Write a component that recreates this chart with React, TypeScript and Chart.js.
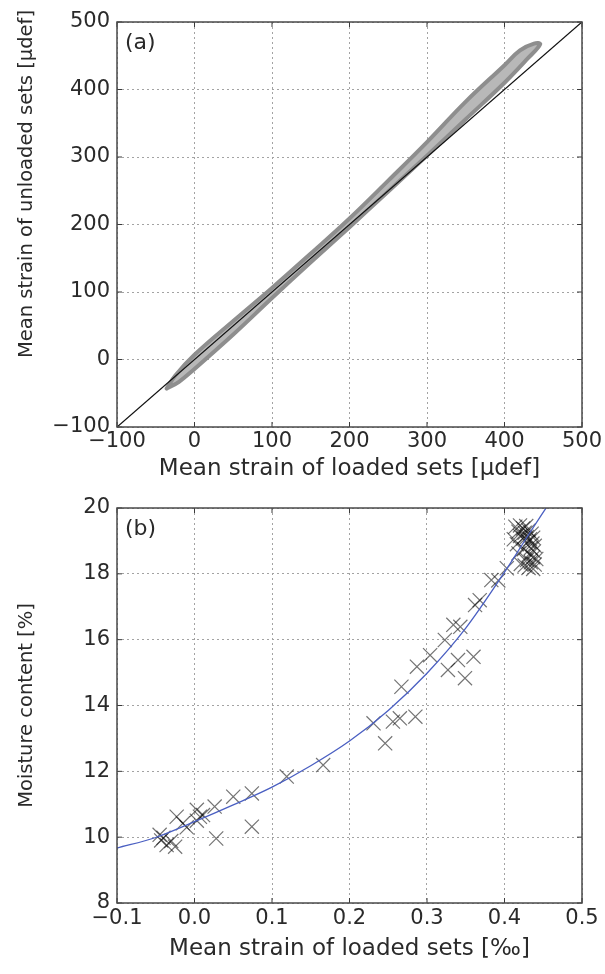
import React, { useEffect, useRef } from 'react';
import { Chart, registerables } from 'chart.js';

Chart.register(...registerables);

// ---------- Panel (a): hysteresis loop ----------
const loopLowerX = [-36, -20, 0, 50, 100, 150, 200, 250, 300, 350, 400, 430, 446];
const loopLowerY = [-43, -33, -14, 37, 91, 144, 196, 249, 302, 356, 410, 446, 467];
const loopUpperX = [446, 438, 420, 400, 350, 300, 250, 200, 150, 100, 50, 0, -25, -36];
const loopUpperY = [467, 468, 458, 436, 382, 322, 265, 209, 157, 106, 57, 7, -24, -43];
const diagX = [-100, 500];
const diagY = [-100, 500];
const aMin = -100;
const aMax = 500;
const aStep = 100;

// ---------- Panel (b): moisture vs strain ----------
const bX = [
  -0.045, -0.040, -0.043, -0.036, -0.025, -0.030, -0.023, -0.015, -0.010, 0.003,
  0.007, 0.003, 0.011, 0.026, 0.028, 0.050, 0.074, 0.074, 0.119, 0.166,
  0.231, 0.246, 0.256, 0.265, 0.285, 0.267, 0.287, 0.304, 0.327, 0.323,
  0.334, 0.343, 0.340, 0.349, 0.360, 0.362, 0.368, 0.383, 0.392, 0.403,
  0.414, 0.420, 0.424, 0.428, 0.418, 0.426, 0.431, 0.435, 0.429, 0.433,
  0.437, 0.431, 0.436, 0.439, 0.424, 0.420, 0.412, 0.434, 0.438, 0.432,
  0.437, 0.429, 0.434, 0.439, 0.426, 0.421, 0.431, 0.437, 0.418, 0.425,
  0.441, 0.416,
];
const bY = [
  10.07, 9.98, 9.90, 9.76, 9.71, 9.88, 10.62, 10.42, 10.30, 10.83,
  10.62, 10.50, 10.67, 10.93, 9.96, 11.23, 11.33, 10.32, 11.84, 12.19,
  13.46, 12.85, 13.51, 13.61, 13.66, 14.57, 15.18, 15.53, 15.08, 15.99,
  16.45, 16.39, 15.38, 14.83, 15.48, 17.05, 17.20, 17.81, 17.80, 18.17,
  19.43, 19.47, 19.38, 19.45, 19.28, 19.25, 19.32, 19.22, 19.12, 19.05,
  19.10, 18.98, 18.92, 18.85, 19.08, 19.15, 19.05, 18.78, 18.68, 18.60,
  18.50, 18.42, 18.35, 18.28, 18.25, 18.30, 18.18, 18.15, 18.62, 18.75,
  18.45, 18.90,
];
const fitX = [-0.1, -0.05, 0, 0.05, 0.1, 0.15, 0.2, 0.25, 0.3, 0.35, 0.4, 0.43, 0.455];
const fitY = [9.67, 9.99, 10.47, 10.98, 11.52, 12.17, 12.92, 13.85, 14.98, 16.35, 18.05, 19.15, 20.05];
const bXMin = -0.1;
const bXMax = 0.5;
const bXStep = 0.1;
const bYMin = 8;
const bYMax = 20;
const bYStep = 2;

const FONT = "'DejaVu Sans', 'Liberation Sans', sans-serif";
const TEXT = '#2a2a2a';
const W = 605;
const H = 487;

const minus = (s: string) => s.replace('-', '\u2212');

const frameTicksPlugin = {
  id: 'frameTicks',
  afterDatasetsDraw(chart: any) {
    const { ctx, chartArea: a, scales } = chart;
    const xs = scales.x;
    const ys = scales.y;
    const L = 5;
    ctx.save();
    ctx.strokeStyle = '#3a3a3a';
    ctx.lineWidth = 1;
    ctx.beginPath();
    xs.ticks.forEach((t: any) => {
      const p = xs.getPixelForValue(t.value);
      ctx.moveTo(p, a.bottom);
      ctx.lineTo(p, a.bottom - L);
      ctx.moveTo(p, a.top);
      ctx.lineTo(p, a.top + L);
    });
    ys.ticks.forEach((t: any) => {
      const p = ys.getPixelForValue(t.value);
      ctx.moveTo(a.left, p);
      ctx.lineTo(a.left + L, p);
      ctx.moveTo(a.right, p);
      ctx.lineTo(a.right - L, p);
    });
    ctx.stroke();
    ctx.strokeStyle = '#4a4a4a';
    ctx.lineWidth = 1.5;
    ctx.strokeRect(a.left, a.top, a.right - a.left, a.bottom - a.top);
    ctx.restore();
  },
  afterDraw(chart: any, _args: any, opts: any) {
    const { ctx, chartArea: a } = chart;
    ctx.save();
    ctx.fillStyle = TEXT;
    if (opts && opts.label) {
      ctx.font = `22px ${FONT}`;
      ctx.textAlign = 'left';
      ctx.textBaseline = 'alphabetic';
      ctx.fillText(opts.label, a.left + 8, a.top + 27);
    }
    if (opts && opts.yTitle) {
      ctx.translate(opts.yTitleX, opts.yTitleY);
      ctx.rotate(-Math.PI / 2);
      ctx.font = `19.5px ${FONT}`;
      ctx.textAlign = 'center';
      ctx.textBaseline = 'middle';
      ctx.fillText(opts.yTitle, 0, 0);
    }
    ctx.restore();
  },
};

const gridOpts = { color: '#a3a3a3', lineWidth: 1, drawTicks: false };
const borderOpts = { display: false, dash: [2, 3] };
const tickFont = { family: FONT, size: 21 };
const titleFont = { family: FONT, size: 23 };

function makeChartA(canvas: HTMLCanvasElement) {
  const loopPts = [
    ...loopLowerX.map((x, i) => ({ x, y: loopLowerY[i] })),
    ...loopUpperX.slice(1).map((x, i) => ({ x, y: loopUpperY[i + 1] })),
  ];
  const diagPts = diagX.map((x, i) => ({ x, y: diagY[i] }));
  return new Chart(canvas, {
    type: 'scatter',
    data: {
      datasets: [
        {
          data: loopPts,
          order: 2,
          showLine: true,
          borderColor: '#8e8e8e',
          backgroundColor: '#b8b8b8',
          fill: 'shape',
          borderWidth: 4,
          pointRadius: 0,
          tension: 0.4,
          borderCapStyle: 'round',
          borderJoinStyle: 'round',
        } as any,
        {
          data: diagPts,
          order: 1,
          showLine: true,
          borderColor: '#111111',
          borderWidth: 1.3,
          pointRadius: 0,
        } as any,
      ],
    },
    options: {
      animation: false,
      responsive: false,
      events: [],
      layout: { padding: { left: 0, right: 23, top: 22, bottom: 0 } },
      plugins: {
        legend: { display: false },
        tooltip: { enabled: false },
        frameTicks: {
          label: '(a)',
          yTitle: 'Mean strain of unloaded sets [\u03bcdef]',
          yTitleX: 27,
          yTitleY: 184,
        },
      } as any,
      scales: {
        x: {
          type: 'linear',
          min: aMin,
          max: aMax,
          ticks: {
            stepSize: aStep,
            padding: 2,
            color: TEXT,
            font: tickFont,
            maxRotation: 0,
            callback: (v: any) => minus(String(v)),
          },
          grid: gridOpts,
          border: borderOpts,
          title: {
            display: true,
            text: 'Mean strain of loaded sets [\u03bcdef]',
            color: TEXT,
            font: titleFont,
            padding: { top: 0, bottom: 4 },
          },
          afterFit: (s: any) => {
            s.height = 60;
          },
        },
        y: {
          type: 'linear',
          min: aMin,
          max: aMax,
          ticks: {
            stepSize: aStep,
            padding: 7,
            color: TEXT,
            font: tickFont,
            callback: (v: any) => minus(String(v)),
          },
          grid: gridOpts,
          border: borderOpts,
          title: { display: false },
          afterFit: (s: any) => {
            s.width = 117;
          },
        },
      },
    } as any,
    plugins: [frameTicksPlugin as any],
  });
}

function makeChartB(canvas: HTMLCanvasElement) {
  const pts = bX.map((x, i) => ({ x, y: bY[i] }));
  const fitPts = fitX.map((x, i) => ({ x, y: fitY[i] }));
  return new Chart(canvas, {
    type: 'scatter',
    data: {
      datasets: [
        {
          data: pts,
          order: 2,
          pointStyle: 'crossRot',
          pointRadius: 10,
          borderColor: 'rgba(0,0,0,0.55)',
          backgroundColor: 'rgba(0,0,0,0)',
          borderWidth: 1.2,
        } as any,
        {
          data: fitPts,
          order: 1,
          showLine: true,
          borderColor: '#4a5fc2',
          borderWidth: 1.3,
          pointRadius: 0,
          cubicInterpolationMode: 'monotone',
        } as any,
      ],
    },
    options: {
      animation: false,
      responsive: false,
      events: [],
      layout: { padding: { left: 0, right: 23, top: 21, bottom: 0 } },
      plugins: {
        legend: { display: false },
        tooltip: { enabled: false },
        frameTicks: { label: '(b)' },
      } as any,
      scales: {
        x: {
          type: 'linear',
          min: bXMin,
          max: bXMax,
          ticks: {
            stepSize: bXStep,
            padding: 3,
            color: TEXT,
            font: tickFont,
            maxRotation: 0,
            callback: (v: any) => {
              const n = Math.abs(v) < 1e-9 ? 0 : Number(v);
              return minus(n.toFixed(1));
            },
          },
          grid: gridOpts,
          border: borderOpts,
          title: {
            display: true,
            text: 'Mean strain of loaded sets [\u2030]',
            color: TEXT,
            font: titleFont,
            padding: { top: 0, bottom: 11 },
          },
          afterFit: (s: any) => {
            s.height = 71;
          },
        },
        y: {
          type: 'linear',
          min: bYMin,
          max: bYMax,
          ticks: {
            stepSize: bYStep,
            padding: 7,
            color: TEXT,
            font: tickFont,
          },
          grid: gridOpts,
          border: borderOpts,
          title: {
            display: true,
            text: 'Moisture content [%]',
            color: TEXT,
            font: { family: FONT, size: 19.5 },
            padding: { top: 15, bottom: 0 },
          },
          afterFit: (s: any) => {
            s.width = 117;
          },
        },
      },
    } as any,
    plugins: [frameTicksPlugin as any],
  });
}

export default function App() {
  const refA = useRef<HTMLCanvasElement>(null);
  const refB = useRef<HTMLCanvasElement>(null);

  useEffect(() => {
    if (!refA.current || !refB.current) return;
    const a = makeChartA(refA.current);
    const b = makeChartB(refB.current);
    return () => {
      a.destroy();
      b.destroy();
    };
  }, []);

  return (
    <div
      style={{
        position: 'absolute',
        left: 0,
        top: 0,
        width: W,
        height: 2 * H,
        background: '#ffffff',
      }}
    >
      <canvas ref={refA} width={W} height={H} style={{ display: 'block', width: W, height: H }} />
      <canvas ref={refB} width={W} height={H} style={{ display: 'block', width: W, height: H }} />
    </div>
  );
}
